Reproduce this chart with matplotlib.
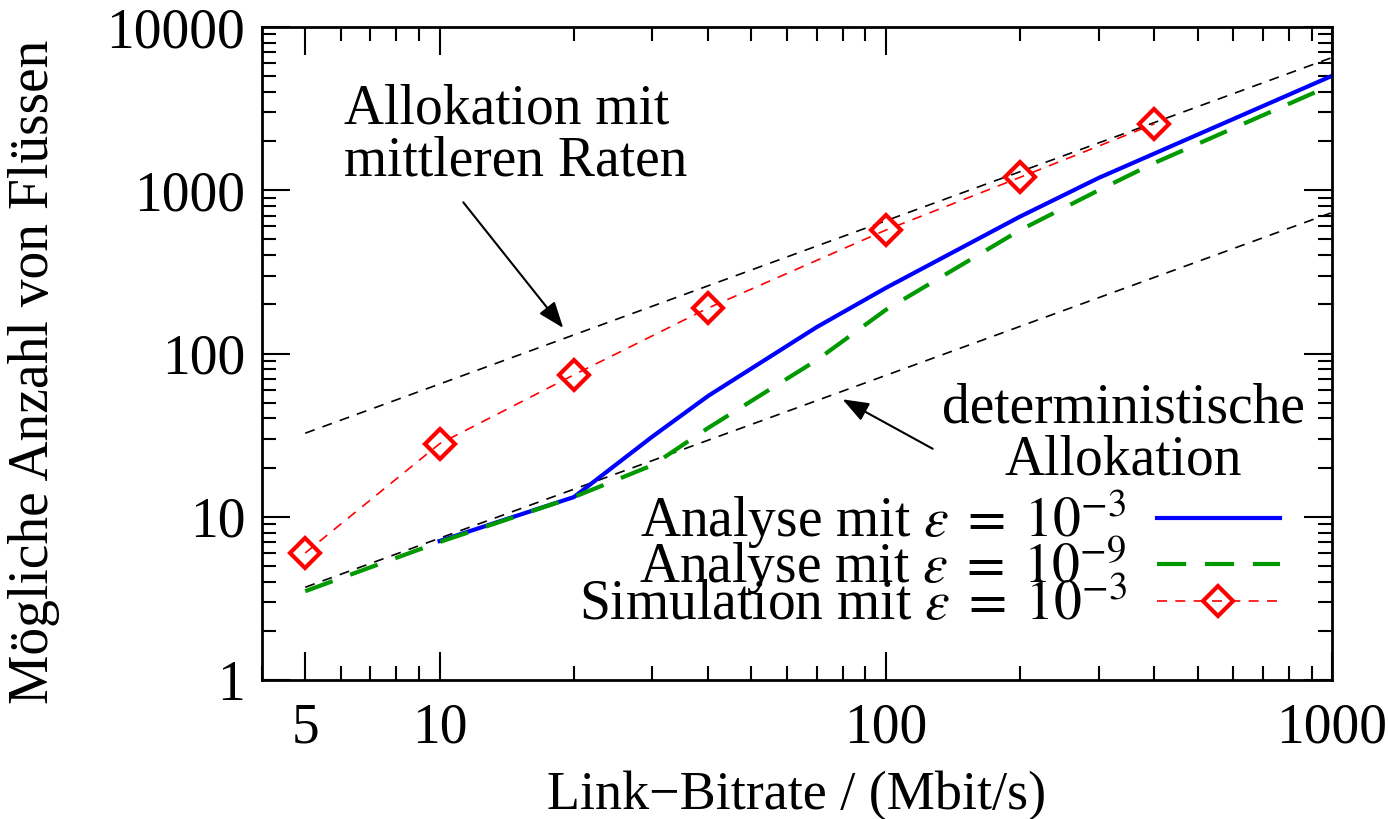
import numpy as np
import matplotlib
matplotlib.use("Agg")
import matplotlib.pyplot as plt

plt.rcParams['font.family'] = ['Liberation Serif', 'DejaVu Serif']
plt.rcParams['mathtext.fontset'] = 'stix'

# data
sim_x = [5, 10, 20, 40, 100, 200, 400]
sim_y = [6.0, 28, 74, 190, 570, 1200, 2550]

ana3_x = [10, 20, 30, 40, 70, 100, 200, 300, 1000]
ana3_y = [7.1, 13.2, 31, 55, 145, 252, 690, 1190, 5020]

ana9_x = [5, 10, 20, 30, 40, 70, 100, 200, 300, 400, 1000]
ana9_y = [3.5, 7.0, 13.2, 20.7, 35, 91, 185, 570, 1000, 1470, 4420]

ref_x = [5, 1000]
mean_rate_y = [32.5, 6500]
determ_y = [3.7, 730]

FS = 40

fig = plt.figure(figsize=(13.88, 8.19), dpi=100)
ax = fig.add_axes([262/1388, 1-680/819, (1332-262)/1388, (680-27)/819])

ax.plot(ref_x, mean_rate_y, color='black', lw=1.2, dashes=(6, 5))
ax.plot(ref_x, determ_y, color='black', lw=1.2, dashes=(6, 5))
ax.plot(ana3_x, ana3_y, color='#0000ff', lw=3.0, label=r'Analyse mit $\varepsilon\;=\;10^{-3}$')
ax.plot(ana9_x, ana9_y, color='#009900', lw=3.0, dashes=(7, 4.5), label=r'Analyse mit $\varepsilon\;=\;10^{-9}$')
ax.plot(sim_x, sim_y, color='#ff0000', lw=1.2, dashes=(6, 5), marker='D', ms=15,
        mfc='none', mec='#ff0000', mew=3, label=r'Simulation mit $\varepsilon\;=\;10^{-3}$')

ax.set_xscale('log')
ax.set_yscale('log')
ax.set_xlim(4, 1000)
ax.set_ylim(1, 10000)
ax.set_xticks([5, 10, 100, 1000])
ax.set_xticklabels(['5', '10', '100', '1000'])
ax.set_yticks([1, 10, 100, 1000, 10000])
ax.set_yticklabels(['1', '10', '100', '1000', '10000'])
ax.tick_params(which='both', direction='in', top=True, right=True, width=1.5, labelsize=FS)
ax.tick_params(which='major', length=20, pad=12)
ax.tick_params(which='minor', length=10)
ax.tick_params(axis='x', which='major', pad=16)
for s in ax.spines.values():
    s.set_linewidth(2)

ax.set_xlabel('Link−Bitrate / (Mbit/s)', fontsize=39, labelpad=12)
ax.set_ylabel('Mögliche Anzahl von Flüssen', fontsize=40)
ax.yaxis.set_label_coords((60 - 262) / 1070, (680 - 372) / 653)

ax.text(6.1, 4500, 'Allokation mit\nmittleren Raten', fontsize=FS, ha='left', va='top',
        linespacing=1.0)
ax.annotate('', xy=(19.1, 139), xytext=(11.2, 870),
            arrowprops=dict(arrowstyle='-|>,head_length=1.6,head_width=0.6', color='black', lw=1.5))
ax.text(340, 32, 'deterministische\nAllokation', fontsize=FS, ha='center', va='center',
        linespacing=1.0)
ax.annotate('', xy=(79, 53.4), xytext=(129, 25.6),
            arrowprops=dict(arrowstyle='-|>,head_length=1.6,head_width=0.6', color='black', lw=1.5))

ax.legend(loc='lower right', bbox_to_anchor=(0.951, 0.073), frameon=False, fontsize=FS,
          markerfirst=False, handlelength=2.2, handletextpad=0.55, labelspacing=-0.31,
          borderpad=0, borderaxespad=0)

fig.savefig('out.png', dpi=100)
